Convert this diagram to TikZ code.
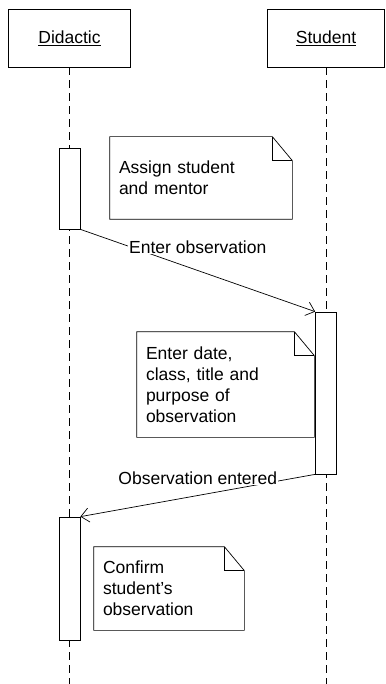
\documentclass[tikz,border=0pt]{standalone}
\usepackage{fontspec}
\setmainfont{Liberation Sans}
\usepackage{tikz}
\usetikzlibrary{arrows.meta}
\usetikzlibrary{positioning}
\newcommand{\notebox}[1]{%
  \draw (#1.north west) -- ([xshift=-20pt]#1.north east) -- ([yshift=-24pt]#1.north east)
    -- (#1.south east) -- (#1.south west) -- cycle;
  \draw ([xshift=-20pt]#1.north east) |- ([yshift=-24pt]#1.north east);}

\begin{document}
\begin{tikzpicture}[x=1pt, y=-1pt, line width=0.7pt,
    every node/.style={font=\fontsize{17.5}{21}\selectfont},
    >={Straight Barb[length=8pt, width=14pt]},
    object/.style={draw, minimum height=58pt, inner sep=0pt},
    lifeline/.style={dash pattern=on 8pt off 5pt},
    activation/.style={draw, fill=white, minimum width=21pt, inner sep=0pt},
    note/.style={align=left, inner xsep=9pt, inner ysep=0pt},
    msglabel/.style={fill=white, inner sep=1pt}]
    \useasboundingbox (0, 0) rectangle (385, 684);

    \node(did) [object, minimum width=122pt] at (69.5, 38) {\underline{Didactic}};
    \node(stu) [object, minimum width=117pt] at (326, 38) {\underline{Student}};
    \coordinate (didend) at (69.5, 684);
    \coordinate (stuend) at (326, 684);

    \draw[lifeline] (did) -- (didend);
    \draw[lifeline] (stu) -- (stuend);

    \node(act1) [activation, minimum height=81pt] at (69.5, 188.5) {};
    \node(act2) [activation, minimum height=162pt] at (326, 393) {};
    \node(act3) [activation, minimum height=123pt] at (69.5, 578.5) {};

    \node(note1) [note, text width=164pt, minimum height=82pt] at (201, 178) {Assign student\\and mentor};
    \node(note2) [note, text width=159pt, minimum height=105pt] at (225.5, 384.5) {Enter date,\\class, title and\\purpose of\\observation};
    \node(note3) [note, text width=132pt, minimum height=83pt] at (169, 588.5) {Confirm\\student's\\observation};
    \notebox{note1}
    \notebox{note2}
    \notebox{note3}

    \draw[->] (act1.south east) -- (act2.north west) node [msglabel, midway, yshift=23.5pt] {Enter observation};
    \draw[->] (act2.south west) -- (act3.north east) node [msglabel, midway, yshift=17.5pt] {Observation entered};
\end{tikzpicture}
\end{document}
